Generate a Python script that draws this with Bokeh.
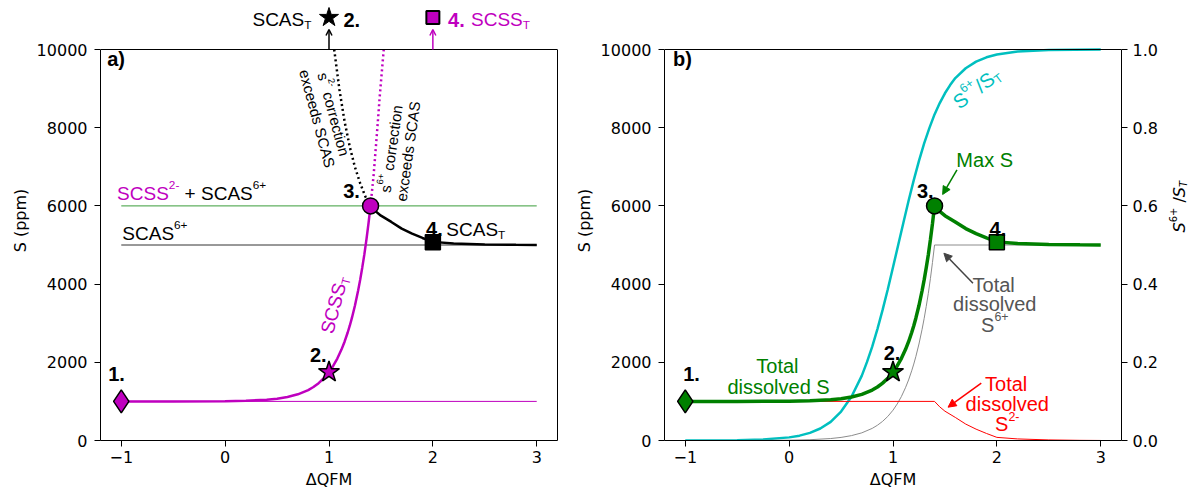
import math
from bokeh.plotting import figure
from bokeh.models import (Label, Arrow, OpenHead, NormalHead, LinearAxis, Range1d, Span,
                          FixedTicker, PrintfTickFormatter)
from bokeh.layouts import row
from bokeh.embed import file_html
from bokeh.resources import INLINE

# ---------------- data ----------------
# SCSS_T branch (reduced side), dQFM -1 .. 1.4
x_lo = [-1.0, -0.5, 0.0, 0.2, 0.4, 0.5, 0.6, 0.7, 0.8, 0.85, 0.9, 0.95, 1.0, 1.04, 1.08, 1.12,
        1.15, 1.18, 1.2, 1.22, 1.25, 1.28, 1.3, 1.32, 1.34, 1.36, 1.38, 1.4]
scss_total = [1000, 1000, 1006, 1017, 1044, 1070, 1113, 1181, 1290, 1368, 1467, 1592, 1750, 1907,
              2096, 2325, 2527, 2762, 2935, 3128, 3452, 3830, 4108, 4420, 4753, 5132, 5546, 6000]
# SCAS_T branch (oxidised side), dQFM 1.4 .. 3
x_hi = [1.4, 1.45, 1.5, 1.6, 1.7, 1.8, 1.9, 2.0, 2.2, 2.5, 2.8, 3.0]
scas_total = [6000, 5860, 5750, 5590, 5420, 5290, 5180, 5080, 5040, 5015, 5004, 5001]
# dotted extensions above point 3
x_scas_corr = [1.05, 1.1, 1.15, 1.2, 1.25, 1.3, 1.35, 1.4]
scas_corr = [10000, 8980, 8160, 7510, 6990, 6580, 6240, 6000]
x_scss_corr = [1.4, 1.43, 1.46, 1.49, 1.527]
scss_corr = [6000, 6800, 7800, 8850, 10000]
# reference levels
x_full = [-1.0, 3.0]
scss2_level = [1000, 1000]
scas6_level = [5000, 5000]
sum_level = [6000, 6000]
# S6+/ST ratio
x_frac = [-1.0, -0.5, -0.25, 0.0, 0.1, 0.2, 0.3, 0.4, 0.5, 0.6, 0.7, 0.75, 0.8, 0.85, 0.9, 0.95,
          1.0, 1.05, 1.1, 1.15, 1.2, 1.25, 1.3, 1.35, 1.4, 1.45, 1.5, 1.55, 1.6, 1.7, 1.8, 1.9,
          2.0, 2.2, 2.5, 3.0]
frac = [0.0001, 0.0008, 0.0025, 0.008, 0.0124, 0.0196, 0.0307, 0.0477, 0.074, 0.112, 0.166,
        0.201, 0.240, 0.285, 0.334, 0.387, 0.443, 0.500, 0.557, 0.613, 0.666, 0.715, 0.760,
        0.799, 0.834, 0.863, 0.888, 0.909, 0.927, 0.952, 0.969, 0.980, 0.987, 0.995, 0.999, 1.0]
# dissolved S6+
x_s6 = x_lo + [3.0]
s6_diss = [0, 1, 8, 20, 50, 79, 125, 196, 310, 390, 490, 616, 775, 932, 1120, 1349, 1549, 1783,
           1955, 2147, 2468, 2844, 3122, 3431, 3763, 4139, 4551, 5000, 5000]
# dissolved S2-
x_s2 = [-1.0] + x_hi
s2_diss = [1000, 1000, 860, 750, 590, 420, 290, 180, 80, 40, 15, 4, 1]
# numbered points 1-4
pt_x = [-1.0, 1.0, 1.4, 2.0]
pt_y = [1000, 1750, 6000, 5070]
pt_labels = ["1.", "2.", "3.", "4."]

x_tot = x_lo + x_hi[1:]
s_tot = scss_total + scas_total[1:]

MAG = "#BF00BF"
CYAN = "#00BFBF"
GREEN = "#008000"

# layout: axes box is 391 px tall for 0..10000, with 49 px of headroom above it
Y_TOP = 10000
BOX_PX = 391
HEAD_PX = 49
Y_MAX = Y_TOP * (BOX_PX + HEAD_PX) / BOX_PX


def above(px_from_top):
    """data y for a point px_from_top pixels below the page top (above the box)"""
    return Y_TOP + (HEAD_PX - px_from_top) * Y_TOP / BOX_PX


# ---------------- text helper ----------------
ARIAL = {' ': 0.278, '+': 0.584, '-': 0.333, '.': 0.278, '/': 0.278, '(': 0.333, ')': 0.333,
         'A': 0.667, 'C': 0.722, 'M': 0.833, 'S': 0.667, 'T': 0.611,
         'a': 0.556, 'c': 0.5, 'd': 0.556, 'e': 0.556, 'i': 0.222, 'l': 0.222, 'n': 0.556,
         'o': 0.556, 'r': 0.333, 's': 0.5, 't': 0.278, 'v': 0.5, 'x': 0.5}
DEJAVU = {' ': 0.318, '+': 0.838, '-': 0.361, '/': 0.337, 'S': 0.635, 'T': 0.611}


def tw(text, size, font):
    if font.startswith("DejaVu"):
        return sum(DEJAVU.get(ch, 0.636) for ch in text) * size
    return sum(ARIAL.get(ch, 0.556) for ch in text) * size


def rich(p, x, y, parts, size, align="left", vcenter=False, angle=0.0, perp0=0.0,
         font="Liberation Sans", bold=False):
    th = math.radians(angle)
    c, s = math.cos(th), math.sin(th)
    items = []
    for part in parts:
        text, kind, color = part[0], part[1], part[2]
        fstyle = part[3] if len(part) > 3 else ("bold" if bold else "normal")
        fs = size if kind == "n" else size * 0.62
        items.append((text, kind, color, fstyle, fs, tw(text, fs, font)))
    total = sum(it[5] for it in items)
    along = 0.0 if align == "left" else (-total / 2 if align == "center" else -total)
    base = perp0 + 0.3 * size + (-0.36 * size if vcenter else 0.0)
    for text, kind, color, fstyle, fs, w in items:
        lead = len(text) - len(text.lstrip(" "))
        along_i = along + tw(" " * lead, fs, font)
        perp = base + (0.42 * size if kind == "sup" else (-0.28 * size if kind == "sub" else 0.0))
        xo = along_i * c - perp * s
        yo = along_i * s + perp * c
        p.add_layout(Label(x=x, y=y, x_offset=xo, y_offset=yo, text=text.strip(" "), angle=th,
                           text_font=font, text_font_size=f"{fs:.1f}px", text_font_style=fstyle,
                           text_color=color, text_align="left", text_baseline="alphabetic"))
        along += w


def style_axis(ax, standoff):
    ax.major_label_text_font = "DejaVu Sans"
    ax.major_label_text_font_size = "16px"
    ax.major_label_text_color = "black"
    ax.axis_label_text_font = "DejaVu Sans"
    ax.axis_label_text_font_size = "16px"
    ax.axis_label_text_font_style = "normal"
    ax.axis_label_text_color = "black"
    ax.axis_label_standoff = 4
    ax.major_label_standoff = standoff
    ax.major_tick_in = 0
    ax.major_tick_out = 6
    ax.minor_tick_in = 0
    ax.minor_tick_out = 0
    ax.axis_line_color = "black"
    ax.major_tick_line_color = "black"


def make_fig(width, left, right, with_right_edge):
    p = figure(width=width, height=495, x_range=Range1d(-1.2, 3.2), y_range=Range1d(0, Y_MAX),
               min_border_left=left, min_border_right=right, min_border_top=0,
               min_border_bottom=55, output_backend="svg", toolbar_location=None)
    p.xgrid.visible = False
    p.ygrid.visible = False
    p.outline_line_color = None
    p.xaxis.ticker = FixedTicker(ticks=[-1, 0, 1, 2, 3])
    p.xaxis.major_label_overrides = {-1: "\u22121"}
    p.yaxis.ticker = FixedTicker(ticks=[0, 2000, 4000, 6000, 8000, 10000])
    p.yaxis.bounds = (0, Y_TOP)
    p.xaxis.axis_label = "\u0394QFM"
    p.yaxis.axis_label = "S (ppm)"
    for ax in p.xaxis:
        style_axis(ax, 4)
    for ax in p.yaxis:
        style_axis(ax, 7)
    # top edge of the axes box
    p.add_layout(Span(location=Y_TOP, dimension="width", line_color="black", line_width=1))
    if with_right_edge:
        edge = LinearAxis(ticker=FixedTicker(ticks=[]), bounds=(0, Y_TOP),
                          major_label_text_font_size="0px", major_tick_out=0, major_tick_in=0,
                          minor_tick_out=0, minor_tick_in=0, axis_line_color="black")
        p.add_layout(edge, "right")
    return p


# ---------------- panel a ----------------
p1 = make_fig(569, 100, 12, True)
p1.line(x_full, sum_level, line_color="#3a9d3a", line_width=1)
p1.line(x_full, scas6_level, line_color="#333333", line_width=1)
p1.line(x_full, scss2_level, line_color=MAG, line_width=1)
p1.line(x_scas_corr, scas_corr, line_color="black", line_width=2.5, line_dash="2 3")
p1.line(x_scss_corr, scss_corr, line_color=MAG, line_width=2.5, line_dash="2 3")
p1.line(x_lo, scss_total, line_color=MAG, line_width=2.5)
p1.line(x_hi, scas_total, line_color="black", line_width=2.5)
p1.scatter(pt_x[:1], pt_y[:1], marker="diamond", size=23, fill_color=MAG, line_color="black", line_width=1.5)
p1.scatter(pt_x[1:2], pt_y[1:2], marker="star", size=22, fill_color=MAG, line_color="black", line_width=1.5)
p1.scatter(pt_x[2:3], pt_y[2:3], marker="circle", size=16, fill_color=MAG, line_color="black", line_width=1.5)
p1.scatter(pt_x[3:4], pt_y[3:4], marker="square", size=15, fill_color="black", line_color="black", line_width=1.5)

rich(p1, -1.04, 6180, [("SCSS", "n", MAG), ("2-", "sup", MAG), (" + SCAS", "n", "black"),
                      ("6+", "sup", "black")], 19)
rich(p1, -0.99, 5150, [("SCAS", "n", "black"), ("6+", "sup", "black")], 19)
rich(p1, 2.13, 5243, [("SCAS", "n", "black"), ("T", "sub", "black")], 19)
for lx, ly, t in [(-1.126, 1535, pt_labels[0]), (0.817, 2046, pt_labels[1]),
                  (1.136, 6222, pt_labels[2]), (1.934, 5243, pt_labels[3])]:
    rich(p1, lx, ly, [(t, "n", "black")], 20, bold=True)
rich(p1, -1.136, 9591, [("a)", "n", "black")], 20, bold=True)
rich(p1, 1.04, 3480, [("SCSS", "n", MAG), ("T", "sub", MAG)], 19, align="center", vcenter=True, angle=75)
rich(p1, 0.975, 8294, [("s", "n", "black"), ("2-", "sup", "black"), (" correction", "n", "black")],
     15, align="center", vcenter=True, angle=-75, perp0=8.5)
rich(p1, 0.975, 8294, [("exceeds SCAS", "n", "black")], 15, align="center", vcenter=True, angle=-75, perp0=-8.5)
rich(p1, 1.671, 7430, [("s", "n", "black"), ("6+", "sup", "black"), (" correction", "n", "black")],
     15, align="center", vcenter=True, angle=82, perp0=8.5)
rich(p1, 1.671, 7430, [("exceeds SCAS", "n", "black")], 15, align="center", vcenter=True, angle=82, perp0=-8.5)

# row above the box: where points 2 and 4 sit on the other curve
rich(p1, 0.263, above(25), [("SCAS", "n", "black"), ("T", "sub", "black")], 19)
p1.scatter(pt_x[1:2], [above(17)], marker="star", size=20, fill_color="black", line_color="black", line_width=1)
rich(p1, 1.139, above(25), [("2.", "n", "black")], 20, bold=True)
p1.scatter(pt_x[3:4], [above(17)], marker="square", size=13, fill_color=MAG, line_color="black", line_width=2)
rich(p1, 2.146, above(25), [("4.", "n", MAG)], 20, bold=True)
rich(p1, 2.367, above(25), [("SCSS", "n", MAG), ("T", "sub", MAG)], 19)
p1.add_layout(Arrow(x_start=pt_x[1], y_start=Y_TOP, x_end=pt_x[1], y_end=above(29),
                    line_color="black", line_width=1.5,
                    end=OpenHead(size=6, line_color="black", line_width=1.5)))
p1.add_layout(Arrow(x_start=pt_x[3], y_start=Y_TOP, x_end=pt_x[3], y_end=above(29),
                    line_color=MAG, line_width=1.5,
                    end=OpenHead(size=6, line_color=MAG, line_width=1.5)))

# ---------------- panel b ----------------
p2 = make_fig(593, 95, 41, False)
p2.extra_y_ranges = {"frac": Range1d(0, Y_MAX / Y_TOP)}
rax = LinearAxis(y_range_name="frac", ticker=FixedTicker(ticks=[0, 0.2, 0.4, 0.6, 0.8, 1.0]),
                 formatter=PrintfTickFormatter(format="%.1f"), bounds=(0, 1))
style_axis(rax, 5)
p2.add_layout(rax, "right")

p2.line(x_frac, frac, y_range_name="frac", line_color=CYAN, line_width=2.5)
p2.line(x_s6, s6_diss, line_color="#8c8c8c", line_width=1)
p2.line(x_s2, s2_diss, line_color="red", line_width=1)
p2.line(x_tot, s_tot, line_color=GREEN, line_width=3.5)
p2.scatter(pt_x[:1], pt_y[:1], marker="diamond", size=23, fill_color=GREEN, line_color="black", line_width=1.5)
p2.scatter(pt_x[1:2], pt_y[1:2], marker="star", size=22, fill_color=GREEN, line_color="black", line_width=1.5)
p2.scatter(pt_x[2:3], pt_y[2:3], marker="circle", size=16, fill_color=GREEN, line_color="black", line_width=1.5)
p2.scatter(pt_x[3:4], pt_y[3:4], marker="square", size=15, fill_color=GREEN, line_color="black", line_width=1.5)

for lx, ly, t in [(-1.02, 1552, pt_labels[0]), (0.91, 2090, pt_labels[1]),
                  (1.23, 6240, pt_labels[2]), (1.93, 5243, pt_labels[3])]:
    rich(p2, lx, ly, [(t, "n", "black")], 20, bold=True)
rich(p2, -1.118, 9591, [("b)", "n", "black")], 20, bold=True)
rich(p2, -0.102, 1747, [("Total", "n", GREEN)], 20, align="center")
rich(p2, -0.102, 1210, [("dissolved S", "n", GREEN)], 20, align="center")
rich(p2, 1.98, 3836, [("Total", "n", "#555555")], 20, align="center")
rich(p2, 1.98, 3325, [("dissolved", "n", "#555555")], 20, align="center")
rich(p2, 1.98, 2813, [("S", "n", "#555555"), ("6+", "sup", "#555555")], 20, align="center")
rich(p2, 2.10, 1296, [("Total", "n", "red")], 20, align="center")
rich(p2, 2.10, 785, [("dissolved", "n", "red")], 20, align="center")
rich(p2, 2.10, 256, [("S", "n", "red"), ("2-", "sup", "red")], 20, align="center")
rich(p2, 1.61, 7008, [("Max S", "n", GREEN)], 20)
rich(p2, 1.80, 9036, [("S", "n", CYAN), ("6+", "sup", CYAN), ("/S", "n", CYAN), ("T", "sub", CYAN)],
     20, align="center", vcenter=True, angle=37)

p2.add_layout(Arrow(x_start=1.616, y_start=6923, x_end=1.478, y_end=6292, line_color=GREEN, line_width=1.5,
                    end=NormalHead(size=8, fill_color=GREEN, line_color=GREEN)))
p2.add_layout(Arrow(x_start=1.77, y_start=4023, x_end=1.49, y_end=4790, line_color="#444444", line_width=1.5,
                    end=NormalHead(size=8, fill_color="#444444", line_color="#444444")))
p2.add_layout(Arrow(x_start=1.85, y_start=1466, x_end=1.53, y_end=852, line_color="red", line_width=1.5,
                    end=NormalHead(size=8, fill_color="red", line_color="red")))

# ---------------- strip right of panel b: right-axis title ----------------
p3 = figure(width=28, height=495, x_range=Range1d(0, 28), y_range=Range1d(0, 495),
            min_border_left=0, min_border_right=0, min_border_top=0, min_border_bottom=0,
            x_axis_location=None, y_axis_location=None, output_backend="svg",
            toolbar_location=None)
p3.xgrid.visible = False
p3.ygrid.visible = False
p3.outline_line_color = None
rich(p3, 16, 263, [("S", "n", "black", "italic"), ("6+", "sup", "black", "normal"),
                   (" /", "n", "black", "normal"), ("S", "n", "black", "italic"),
                   ("T", "sub", "black", "italic")], 16, align="center", vcenter=True, angle=90,
     font="DejaVu Sans")

layout = row(p1, p2, p3)
open("out.html", "w").write(file_html(layout, INLINE))
